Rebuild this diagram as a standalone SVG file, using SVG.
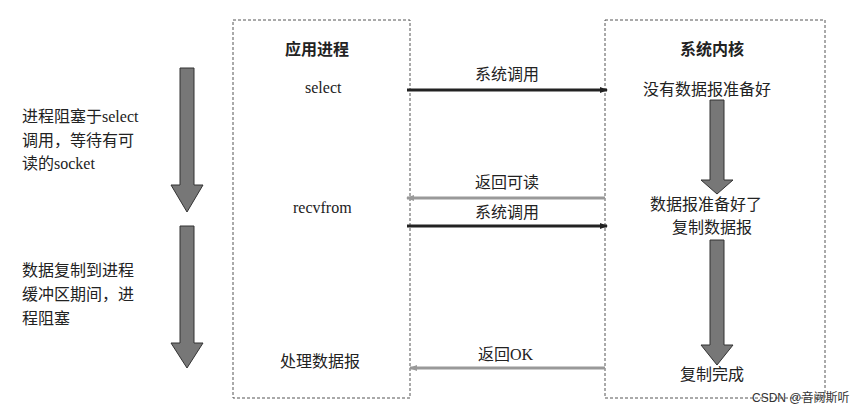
<svg xmlns="http://www.w3.org/2000/svg" width="854" height="411" viewBox="0 0 854 411">
<style>
text{font-family:"Liberation Serif","Noto Sans CJK SC",serif;font-size:16px;fill:#222}
.b{font-weight:bold}
.box{fill:none;stroke:#555;stroke-width:1;stroke-dasharray:3,2}
.ga{fill:#777;stroke:#333;stroke-width:1}
.k{stroke:#222;stroke-width:3;fill:none}
.g{stroke:#999;stroke-width:3;fill:none}
</style>
<defs>
<marker id="ak" markerWidth="8" markerHeight="6" refX="7" refY="3" orient="auto" markerUnits="userSpaceOnUse" viewBox="0 0 8 6"><path d="M0,0L8,3L0,6z" fill="#222"/></marker>
<marker id="ag" markerWidth="8" markerHeight="6" refX="7" refY="3" orient="auto" markerUnits="userSpaceOnUse" viewBox="0 0 8 6"><path d="M0,0L8,3L0,6z" fill="#999"/></marker>
</defs>
<rect width="854" height="411" fill="#fff"/>
<g id="left">
<path class="ga" d="M180,68h14v117h9l-16,27l-16,-27h9z"/>
<path class="ga" d="M180,226h14v117h9l-16,25l-16,-25h9z"/>
<text x="22" y="122">进程阻塞于select</text>
<text x="22" y="146">调用，等待有可</text>
<text x="22" y="169">读的socket</text>
<text x="22" y="276">数据复制到进程</text>
<text x="22" y="300">缓冲区期间，进</text>
<text x="22" y="324">程阻塞</text>
</g>
<g id="app">
<rect class="box" x="233" y="20" width="177" height="378"/>
<text class="b" x="285" y="55">应用进程</text>
<text x="305" y="93">select</text>
<text x="293" y="213">recvfrom</text>
<text x="280" y="367">处理数据报</text>
</g>
<g id="kernel">
<rect class="box" x="605" y="20" width="220" height="378"/>
<text class="b" x="680" y="55">系统内核</text>
<text x="643" y="95">没有数据报准备好</text>
<text x="650" y="210">数据报准备好了</text>
<text x="672" y="233">复制数据报</text>
<text x="680" y="380">复制完成</text>
<path class="ga" d="M710,100h14v80h9l-16,14l-16,-14h9z"/>
<path class="ga" d="M710,240h14v105h9l-16,20l-16,-20h9z"/>
</g>
<g id="connectors">
<line class="k" x1="407" y1="90" x2="607" y2="90" marker-end="url(#ak)"/>
<line class="g" x1="605" y1="198" x2="407" y2="198" marker-end="url(#ag)"/>
<line class="k" x1="407" y1="226" x2="607" y2="226" marker-end="url(#ak)"/>
<line class="g" x1="605" y1="368" x2="410" y2="368" marker-end="url(#ag)"/>
<text x="475" y="80">系统调用</text>
<text x="475" y="188">返回可读</text>
<text x="475" y="218">系统调用</text>
<text x="478" y="360">返回OK</text>
</g>
<text x="752" y="402" style="font-family:'Liberation Sans','Noto Sans CJK SC',sans-serif;font-size:12px;fill:#333">CSDN @音阙斯听</text>
</svg>
